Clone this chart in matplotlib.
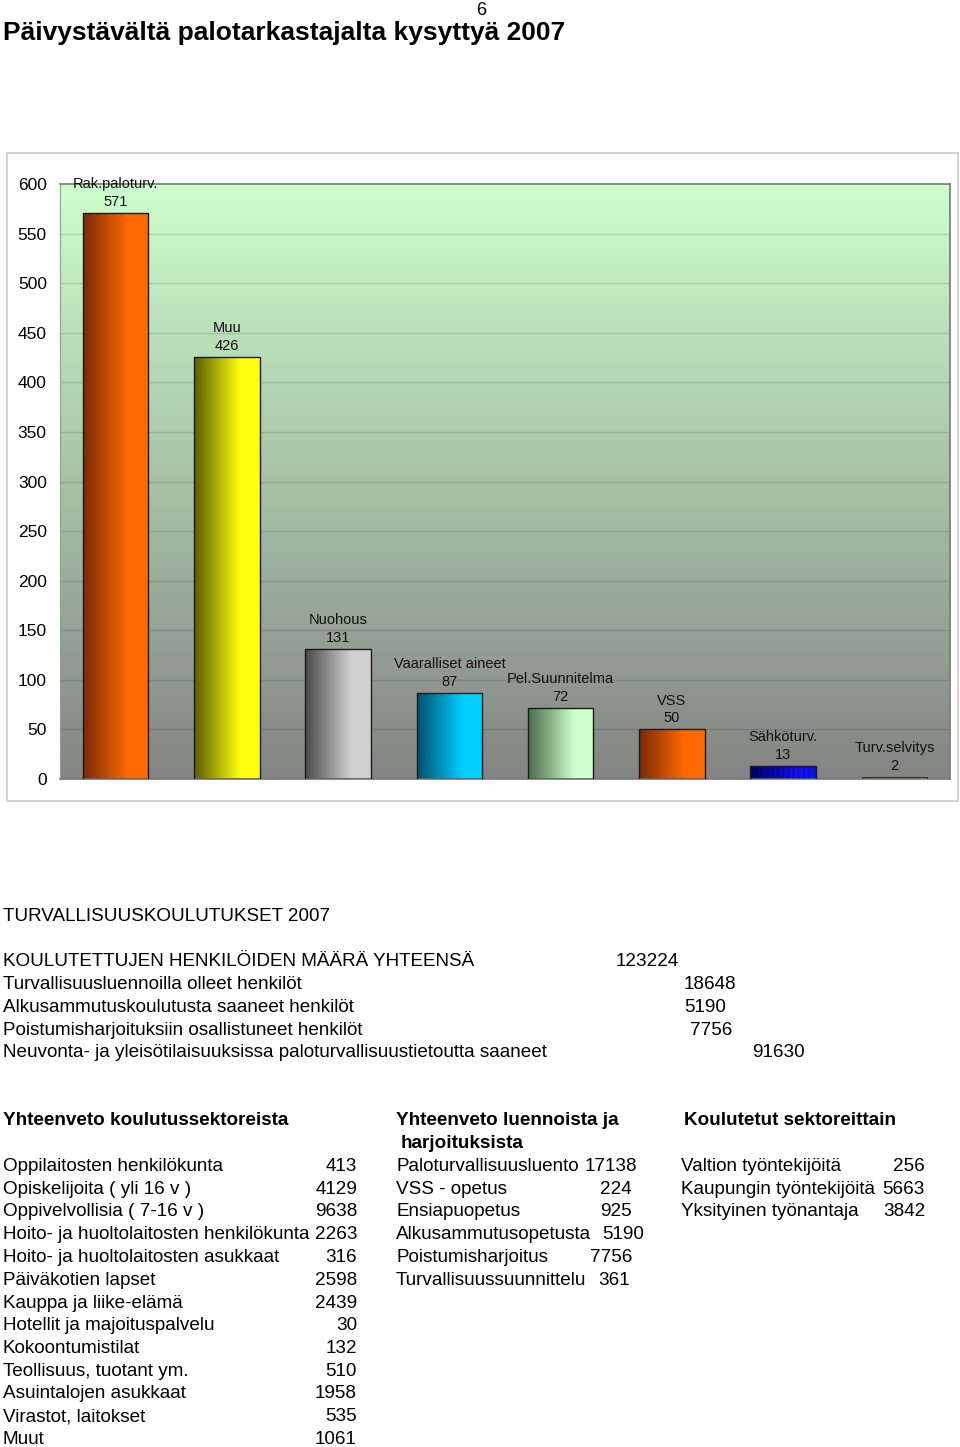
import numpy as np
import matplotlib
matplotlib.use("Agg")
import matplotlib.pyplot as plt
from matplotlib.patches import Rectangle
from matplotlib.colors import to_rgb

plt.rcParams['font.family'] = ['Liberation Sans', 'DejaVu Sans']

# chart data
categories = ["Rak.paloturv.", "Muu", "Nuohous", "Vaaralliset aineet",
              "Pel.Suunnitelma", "VSS", "Sähköturv.", "Turv.selvitys"]
values = [571, 426, 131, 87, 72, 50, 13, 2]
yticks = [0, 50, 100, 150, 200, 250, 300, 350, 400, 450, 500, 550, 600]

# text tables
total_labels = ["KOULUTETTUJEN HENKILÖIDEN MÄÄRÄ YHTEENSÄ",
                "Turvallisuusluennoilla olleet henkilöt",
                "Alkusammutuskoulutusta saaneet henkilöt",
                "Poistumisharjoituksiin osallistuneet henkilöt",
                "Neuvonta- ja yleisötilaisuuksissa paloturvallisuustietoutta saaneet"]
total_values = ["123224", "18648", "5190", "7756", "91630"]

sector_labels = ["Oppilaitosten henkilökunta", "Opiskelijoita ( yli 16 v )",
                 "Oppivelvollisia ( 7-16 v )", "Hoito- ja huoltolaitosten henkilökunta",
                 "Hoito- ja huoltolaitosten asukkaat", "Päiväkotien lapset",
                 "Kauppa ja liike-elämä", "Hotellit ja majoituspalvelu",
                 "Kokoontumistilat", "Teollisuus, tuotant ym.",
                 "Asuintalojen asukkaat", "Virastot, laitokset", "Muut"]
sector_values = ["413", "4129", "9638", "2263", "316", "2598", "2439",
                 "30", "132", "510", "1958", "535", "1061"]

lecture_labels = ["Paloturvallisuusluento", "VSS - opetus", "Ensiapuopetus",
                  "Alkusammutusopetusta", "Poistumisharjoitus", "Turvallisuussuunnittelu"]
lecture_values = ["17138", "224", "925", "5190", "7756", "361"]

employer_labels = ["Valtion työntekijöitä", "Kaupungin työntekijöitä",
                   "Yksityinen työnantaja"]
employer_values = ["256", "5663", "3842"]

# bar colours (dark -> light, left to right)
bar_colors = [("#7a2a08", "#ff6a00"), ("#5c5c00", "#ffff10"),
              ("#4a4a4a", "#cfcfcf"), ("#00506e", "#00d0ff"),
              ("#4a6a4a", "#ccffcc"), ("#7a2a08", "#ff6a00"),
              ("#00006a", "#1010ff"), ("#8a4a3a", "#9a5a4a")]

W, H = 960, 1447
fig = plt.figure(figsize=(W / 100, H / 100), dpi=100)


def fx(x):
    return x / W


def fy(y):
    return 1 - y / H


# outer chart frame
fig.patches.append(Rectangle((fx(7), fy(801)), fx(958) - fx(7), fy(153) - fy(801),
                             transform=fig.transFigure, fill=False,
                             edgecolor="#d4d4d4", linewidth=1.5))

ax = fig.add_axes([fx(60), fy(779), fx(950) - fx(60), fy(184) - fy(779)])
n = len(categories)
ax.set_xlim(-0.5, n - 0.5)
ax.set_ylim(0, 600)

# background gradient
top = np.array(to_rgb("#ccffcc"))
bot = np.array(to_rgb("#848484"))
t = np.linspace(0, 1, 256)[:, None]
bg = (bot * (1 - t) + top * t)[:, None, :]
ax.imshow(bg, extent=(-0.5, n - 0.5, 0, 600), origin="lower",
          aspect="auto", zorder=0)

for yv in yticks[1:-1]:
    ax.axhline(yv, color="black", alpha=0.12, linewidth=1, zorder=1)

bars = ax.bar(range(n), values, width=0.59, color="none",
              edgecolor="#1a1a1a", linewidth=1, zorder=3)
bars[-1].set_edgecolor("#3a2a2a")
bars[-1].set_linewidth(0.7)

for i, (b, (c0, c1)) in enumerate(zip(bars, bar_colors)):
    x0 = b.get_x()
    x1 = x0 + b.get_width()
    s = np.clip(np.linspace(0, 1, 200) / 0.7, 0, 1)[None, :, None]
    grad = np.array(to_rgb(c0)) * (1 - s) + np.array(to_rgb(c1)) * s
    if categories[i] == "Sähköturv.":
        stripes = (np.arange(200) // 8) % 2 == 0
        grad[:, stripes, :] *= 0.8
    im = ax.imshow(grad, extent=(x0, x1, 0, b.get_height()),
                   aspect="auto", zorder=2, interpolation="bilinear")
    im.set_clip_path(b)
    ax.annotate(f"{categories[i]}\n{values[i]}", (i, values[i]),
                xytext=(0, 4), textcoords="offset pixels",
                ha="center", va="bottom", fontsize=10.5, linespacing=1.35,
                color="#111111", zorder=4, annotation_clip=False)

ax.set_xticks([])
ax.set_yticks(yticks)
ax.tick_params(axis="y", length=0, pad=9.5, labelsize=12.5)
for side in ["top", "right", "bottom", "left"]:
    ax.spines[side].set_color("#777777")
    ax.spines[side].set_linewidth(1.2)
ax.spines["left"].set_color("#999999")
ax.spines["left"].set_linewidth(0.8)

# page header
fig.text(fx(481), fy(15), "6", ha="center", va="baseline", fontsize=13)
fig.text(fx(3), fy(40), "Päivystävältä palotarkastajalta kysyttyä 2007",
         ha="left", va="baseline", fontsize=19, fontweight="bold")

fs = 13.6
bl = 7  # baseline offset from row centre
fig.text(fx(3), fy(914 + bl), "TURVALLISUUSKOULUTUKSET 2007", ha="left",
         va="baseline", fontsize=fs)

total_y = [959, 982, 1005, 1028, 1050]
total_x = [616, 684, 684, 690, 752]
for lab, val, yy, xx in zip(total_labels, total_values, total_y, total_x):
    fig.text(fx(3), fy(yy + bl), lab, ha="left", va="baseline", fontsize=fs)
    fig.text(fx(xx), fy(yy + bl), val, ha="left", va="baseline", fontsize=fs)

# summaries
fig.text(fx(3), fy(1118 + bl), "Yhteenveto koulutussektoreista", ha="left",
         va="baseline", fontsize=fs, fontweight="bold")
fig.text(fx(396), fy(1118 + bl), "Yhteenveto luennoista ja", ha="left",
         va="baseline", fontsize=fs, fontweight="bold")
fig.text(fx(401), fy(1141 + bl), "harjoituksista", ha="left",
         va="baseline", fontsize=fs, fontweight="bold")
fig.text(fx(684), fy(1118 + bl), "Koulutetut sektoreittain", ha="left",
         va="baseline", fontsize=fs, fontweight="bold")

row0, step = 1164, 22.75
for k, (lab, val) in enumerate(zip(sector_labels, sector_values)):
    yy = fy(row0 + k * step + bl)
    fig.text(fx(3), yy, lab, ha="left", va="baseline", fontsize=fs)
    fig.text(fx(357), yy, val, ha="right", va="baseline", fontsize=fs)

lecture_right = [637, 632, 632, 644, 632, 630]
for k, (lab, val) in enumerate(zip(lecture_labels, lecture_values)):
    yy = fy(row0 + k * step + bl)
    fig.text(fx(396), yy, lab, ha="left", va="baseline", fontsize=fs)
    fig.text(fx(lecture_right[k]), yy, val, ha="right", va="baseline", fontsize=fs)

for k, (lab, val) in enumerate(zip(employer_labels, employer_values)):
    yy = fy(row0 + k * step + bl)
    fig.text(fx(681), yy, lab, ha="left", va="baseline", fontsize=fs)
    fig.text(fx(925), yy, val, ha="right", va="baseline", fontsize=fs)

fig.savefig("out.png", dpi=100, facecolor="white")
